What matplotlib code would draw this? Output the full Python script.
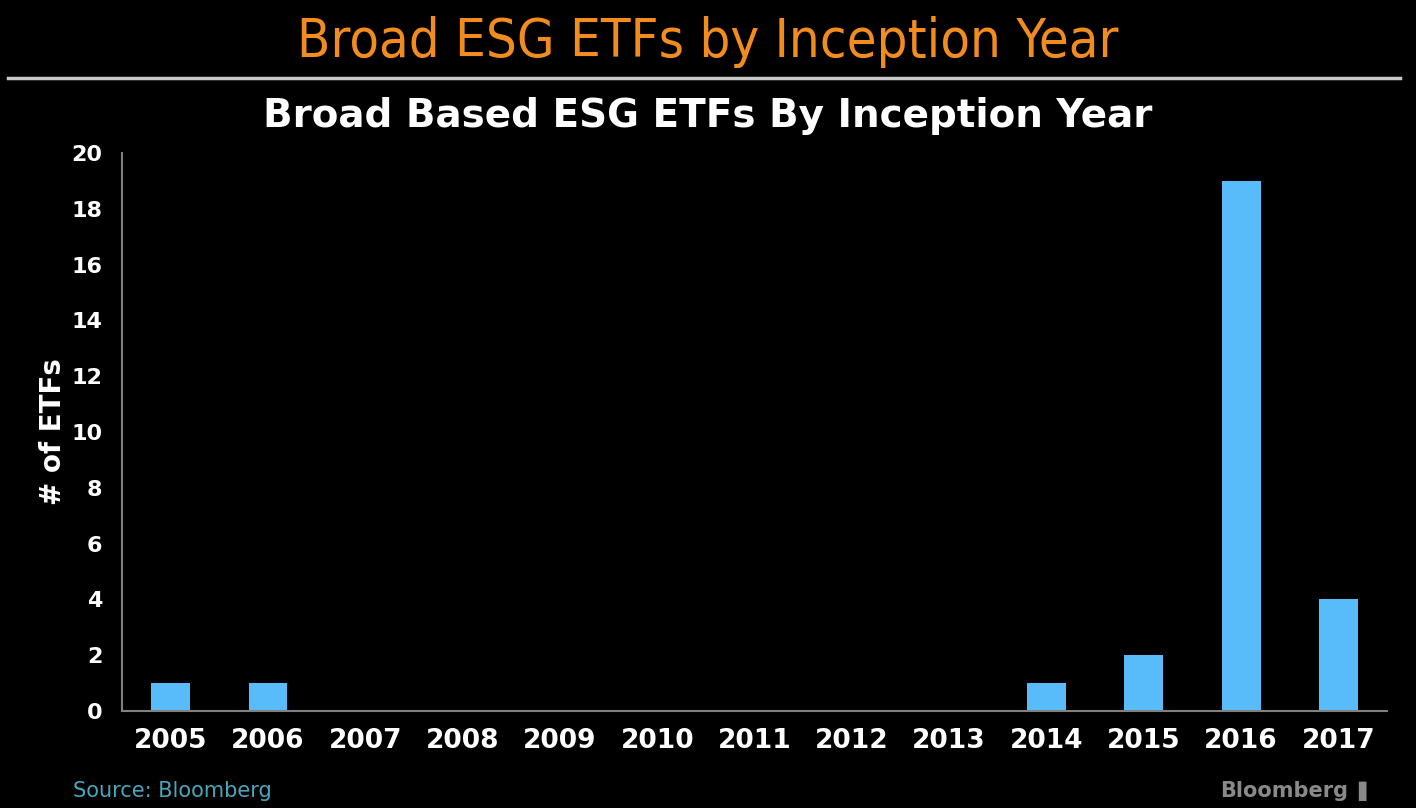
import matplotlib
matplotlib.use('Agg')
import matplotlib.pyplot as plt

years = ['2005', '2006', '2007', '2008', '2009', '2010', '2011',
         '2012', '2013', '2014', '2015', '2016', '2017']
etf_counts = [1, 1, 0, 0, 0, 0, 0, 0, 0, 1, 2, 19, 4]
y_ticks = [0, 2, 4, 6, 8, 10, 12, 14, 16, 18, 20]

fig = plt.figure(figsize=(14.16, 8.08), dpi=100, facecolor='black')
ax = fig.add_axes([122/1416, 1 - 711/808, (1387-122)/1416, (711-153)/808])
ax.set_facecolor('black')

x = list(range(len(years)))
ax.bar(x, etf_counts, width=0.4, color='#58bcfa')
ax.set_xlim(-0.5, len(years) - 0.5)
ax.set_ylim(0, 20)
ax.set_xticks(x)
ax.set_xticklabels(years, fontsize=19, fontweight='bold', color='white')
ax.set_yticks(y_ticks)
ax.set_yticklabels([str(v) for v in y_ticks], fontsize=16, fontweight='bold', color='white')
ax.tick_params(length=0)
ax.tick_params(axis='x', pad=12)
ax.tick_params(axis='y', pad=14)
for s in ['top', 'right']:
    ax.spines[s].set_visible(False)
for s in ['left', 'bottom']:
    ax.spines[s].set_color('#808080')
    ax.spines[s].set_linewidth(1.5)
ax.set_ylabel('# of ETFs', fontsize=20, fontweight='bold', color='white', labelpad=3)

# headers
fig.text(0.5, 1 - 42/808, 'Broad ESG ETFs by Inception Year', ha='center', va='center',
         fontsize=39, color='#f28c1e', fontfamily='DejaVu Sans', fontstretch='condensed')
fig.add_artist(plt.Line2D([8/1416, 1400/1416], [1 - 78/808, 1 - 78/808],
                          color='#c8c8c8', linewidth=2.5))
fig.text(0.5, 1 - 116/808, 'Broad Based ESG ETFs By Inception Year', ha='center', va='center',
         fontsize=28, fontweight='bold', color='white')

# footer
fig.text(73/1416, 1 - 791/808, 'Source: Bloomberg', ha='left', va='center',
         fontsize=15, color='#4aa6bd')
fig.text(1348/1416, 1 - 791/808, 'Bloomberg', ha='right', va='center',
         fontsize=15, fontweight='bold', color='#8a8a8a')
fig.text(1366/1416, 1 - 791/808, '\u258c', ha='center', va='center',
         fontsize=14, color='#8a8a8a')

fig.savefig('out.png', dpi=100, facecolor='black')
